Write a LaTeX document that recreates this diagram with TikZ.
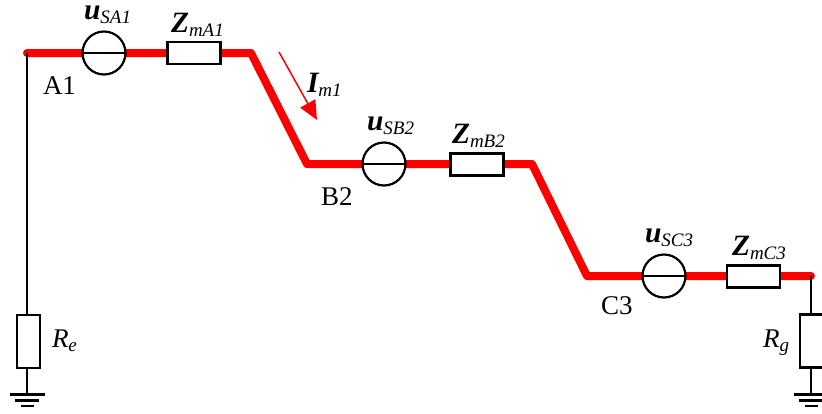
\documentclass[tikz,border=0pt]{standalone}
\usepackage{fontspec}
\setmainfont{Liberation Serif}
\usetikzlibrary{arrows.meta}
\tikzset{
  x=1pt,y=-1pt,
  wire/.style={line width=2.6pt,black},
  bus/.style={line width=8pt,red,line join=round,line cap=round},
  source/.style={circle,draw=black,fill=white,line width=2.2pt,minimum size=43pt,inner sep=0pt,outer sep=0pt},
  imp/.style={rectangle,draw=black,fill=white,line width=2.4pt,minimum width=53pt,minimum height=22pt,inner sep=0pt,outer sep=0pt},
  res/.style={rectangle,draw=black,fill=white,line width=2.4pt,minimum width=23pt,minimum height=53pt,inner sep=0pt,outer sep=0pt},
  lbl/.style={inner sep=0pt,outer sep=0pt,anchor=base west},
  gnd/.style={line width=2.2pt,black},
}
\newcommand{\bfv}[2]{{\fontsize{29.5}{30}\selectfont\bfseries\itshape #1}\raisebox{-4pt}{\fontsize{19}{19}\selectfont\itshape #2}}
\newcommand{\plain}[1]{{\fontsize{27}{27}\selectfont #1}}
\newcommand{\rlab}[2]{{\fontsize{27}{27}\selectfont\itshape #1}\raisebox{-4pt}{\fontsize{19}{19}\selectfont\itshape #2}}
\begin{document}
\begin{tikzpicture}
\useasboundingbox (0,0) rectangle (822,413);
\clip (0,0) rectangle (822,413);
% coordinates on the bus
\coordinate (A) at (27,53);
\coordinate (A2) at (251,53);
\coordinate (B) at (307,164);
\coordinate (B2) at (532,164);
\coordinate (C) at (587,276);
\coordinate (C2) at (811,276);
% bus
\draw[bus] (A) -- (A2) -- (B) -- (B2) -- (C) -- (C2);
% sources
\node[source] (sa) at (104,53) {};
\node[source] (sb) at (384,164) {};
\node[source] (sc) at (664,276) {};
\draw[line width=2.2pt] (sa.west) -- (sa.east);
\draw[line width=2.2pt] (sb.west) -- (sb.east);
\draw[line width=2.2pt] (sc.west) -- (sc.east);
% impedances
\node[imp] (za) at (194,53) {};
\node[imp] (zb) at (477,164.5) {};
\node[imp] (zc) at (753.5,276.5) {};
% earth resistors
\node[res] (re) at (28.5,341.5) {};
\node[res] (rg) at (811.5,341) {};
\coordinate (ge) at (27,394);
\coordinate (gr) at (811,394);
\draw[wire] (A) -- (27,315);
\draw[wire] (27,368) -- (ge);
\draw[wire] (C2) -- (811,314);
\draw[wire] (811,368) -- (gr);
% grounds
\draw[gnd] (10,394.5) -- (45,394.5);
\draw[gnd] (15,400.5) -- (39,400.5);
\draw[gnd] (21,406) -- (34,406);
\draw[gnd] (794,394.5) -- (829,394.5);
\draw[gnd] (799,400.5) -- (823,400.5);
\draw[gnd] (805,406) -- (818,406);
% current arrow
\coordinate (i1) at (279,52);
\coordinate (i2) at (317,120);
\draw[red,line width=1.5pt,-{Triangle[length=19pt,width=17pt]}] (i1) -- (i2);
% labels
\node[lbl] (lsa) at (84,19) {\bfv{u}{SA1}};
\node[lbl] (lza) at (171,32) {\bfv{Z}{mA1}};
\node[lbl] (lim) at (307,92) {\bfv{I}{m1}};
\node[lbl] (lsb) at (367,130) {\bfv{u}{SB2}};
\node[lbl] (lzb) at (452,143) {\bfv{Z}{mB2}};
\node[lbl] (lsc) at (645,242) {\bfv{u}{SC3}};
\node[lbl] (lzc) at (732,255) {\bfv{Z}{mC3}};
\node[lbl] (la) at (43,94) {\plain{A1}};
\node[lbl] (lb) at (321,205) {\plain{B2}};
\node[lbl] (lc) at (601,314) {\plain{C3}};
\node[lbl] (lre) at (52,347) {\rlab{R}{e}};
\node[lbl] (lrg) at (763,347) {\rlab{R}{g}};
\end{tikzpicture}
\end{document}
